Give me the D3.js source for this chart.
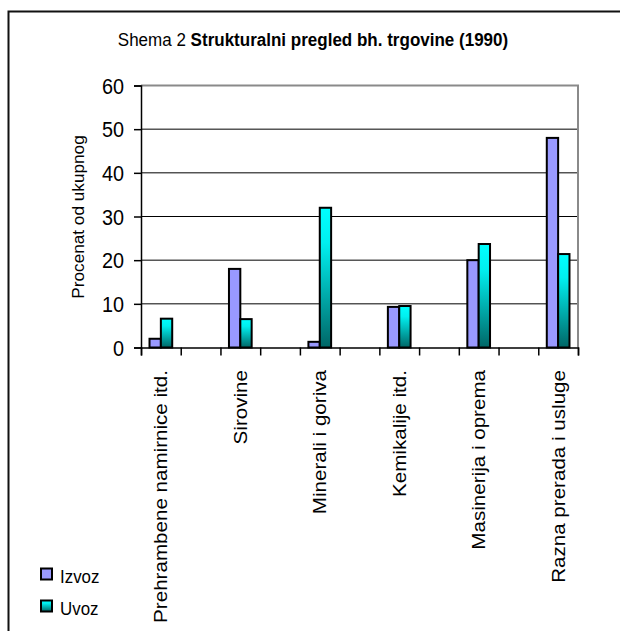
<!doctype html>
<html>
<head>
<meta charset="utf-8">
<title>Shema 2</title>
<script src="https://d3js.org/d3.v7.min.js"></script>
<style>
  body { margin:0; background:#fff; }
  text { font-family: "Liberation Sans", Arial, sans-serif; fill:#000; }
</style>
</head>
<body>
<div id="chart"></div>
<script>
// podaci
var categories = ["Prehrambene namirnice itd.", "Sirovine", "Minerali i goriva",
                  "Kemikalije itd.", "Masinerija i oprema", "Razna prerada i usluge"];
var izvoz = [2, 18, 1.3, 9.3, 20, 48];
var uvoz  = [6.6, 6.5, 32, 9.5, 23.7, 21.4];
var yTicks = [0, 10, 20, 30, 40, 50, 60];
var seriesNames = ["Izvoz", "Uvoz"];

var width = 620, height = 631;
var plot = {left:141, right:578, top:85.5, bottom:347.5};
var narrow = 0.88; // uski font (kao Arial Narrow)

var svg = d3.select("#chart").append("svg")
  .attr("width", width).attr("height", height);

// gradijent za uvoz
var defs = svg.append("defs");
var grad = defs.append("linearGradient").attr("id", "uvozGrad")
  .attr("x1", 0).attr("y1", 0).attr("x2", 0).attr("y2", 1);
grad.append("stop").attr("offset", "0%").attr("stop-color", "#00ffff");
grad.append("stop").attr("offset", "25%").attr("stop-color", "#00f0f0");
grad.append("stop").attr("offset", "100%").attr("stop-color", "#006666");

// okvir
svg.append("path")
  .attr("d", "M8.5,640V11.5H630")
  .attr("fill", "none").attr("stroke", "#111").attr("stroke-width", 2);

// naslov
var title = svg.append("text")
  .attr("transform", "translate(313,46) scale(0.92,1)")
  .attr("text-anchor", "middle").style("font-size", "18.5px");
title.append("tspan").text("Shema 2 ");
title.append("tspan").style("font-weight", "bold").text("Strukturalni pregled bh. trgovine (1990)");

// skale: 11 mjesta, kategorije na parnim mjestima
var slots = d3.range(categories.length * 2 - 1);
var x = d3.scaleBand().domain(slots).range([plot.left, plot.right]);
var xTickScale = d3.scaleLinear().domain([0, slots.length]).range([plot.left, plot.right]);
var y = d3.scaleLinear().domain([0, 60]).range([plot.bottom, plot.top]);

// mreza
svg.append("g").selectAll("line")
  .data(yTicks.slice(1, -1))
  .enter().append("line")
  .attr("x1", plot.left).attr("x2", plot.right)
  .attr("y1", function(d){ return y(d); }).attr("y2", function(d){ return y(d); })
  .attr("stroke", "#000").attr("stroke-width", 1);

// granica plot area (sivo)
svg.append("path")
  .attr("d", "M" + plot.left + "," + y(60) + "H" + plot.right + "V" + plot.bottom)
  .attr("fill", "none").attr("stroke", "#8a8a8a").attr("stroke-width", 2);

// stupci
var barW = x.bandwidth() / 3.5;
var off = (x.bandwidth() - 2 * barW) / 2;
var rows = categories.map(function(c, i){ return {i:i, vals:[izvoz[i], uvoz[i]]}; });
var groups = svg.append("g").selectAll("g")
  .data(rows).enter().append("g")
  .attr("transform", function(d){ return "translate(" + (x(d.i * 2) + off) + ",0)"; });
groups.selectAll("rect")
  .data(function(d){ return d.vals; })
  .enter().append("rect")
  .attr("x", function(d, k){ return k * barW; })
  .attr("y", function(d){ return y(d); })
  .attr("width", barW)
  .attr("height", function(d){ return y(0) - y(d); })
  .attr("fill", function(d, k){ return k === 0 ? "#9999ff" : "url(#uvozGrad)"; })
  .attr("stroke", "#000").attr("stroke-width", 2);

// osi
var yAxis = svg.append("g")
  .attr("transform", "translate(" + plot.left + ",0)")
  .call(d3.axisLeft(y).tickValues(yTicks).tickSize(7).tickFormat(""));
var xAxis = svg.append("g")
  .attr("transform", "translate(0," + plot.bottom + ")")
  .call(d3.axisBottom(xTickScale).tickValues(d3.range(slots.length + 1)).tickSize(8).tickFormat(""));
[yAxis, xAxis].forEach(function(a){
  a.select(".domain").attr("stroke", "#000").attr("stroke-width", 1.5);
  a.selectAll(".tick line").attr("stroke", "#000").attr("stroke-width", 1.5);
});

// oznake y osi
svg.append("g").selectAll("text")
  .data(yTicks).enter().append("text")
  .attr("transform", function(d){ return "translate(124," + y(d) + ") scale(0.88,1)"; })
  .attr("text-anchor", "end").attr("dy", "0.36em")
  .style("font-size", "22.5px")
  .text(function(d){ return d; });

// nazivi kategorija
svg.append("g").selectAll("text")
  .data(categories).enter().append("text")
  .attr("transform", function(d, i){
    return "translate(" + (x(i * 2) + x.bandwidth() / 2) + ",370) scale(" + narrow + ",1) rotate(-90)";
  })
  .attr("text-anchor", "end").attr("dy", "0.36em")
  .style("font-size", "20.6px")
  .text(function(d){ return d; });

// naziv y osi
svg.append("text")
  .attr("transform", "translate(78,217) scale(0.92,1) rotate(-90)")
  .attr("text-anchor", "middle").attr("dy", "0.35em")
  .style("font-size", "17.2px")
  .text("Procenat od ukupnog");

// legenda
var legend = svg.append("g").selectAll("g")
  .data(seriesNames).enter().append("g")
  .attr("transform", function(d, i){ return "translate(41," + (568.5 + i * 32) + ")"; });
legend.append("rect")
  .attr("width", 11).attr("height", 11)
  .attr("fill", function(d, i){ return i === 0 ? "#9999ff" : "url(#uvozGrad)"; })
  .attr("stroke", "#000").attr("stroke-width", 2);
legend.append("text")
  .attr("transform", "translate(19,14.5) scale(0.89,1)")
  .style("font-size", "19px")
  .text(function(d){ return d; });
</script>
</body>
</html>
